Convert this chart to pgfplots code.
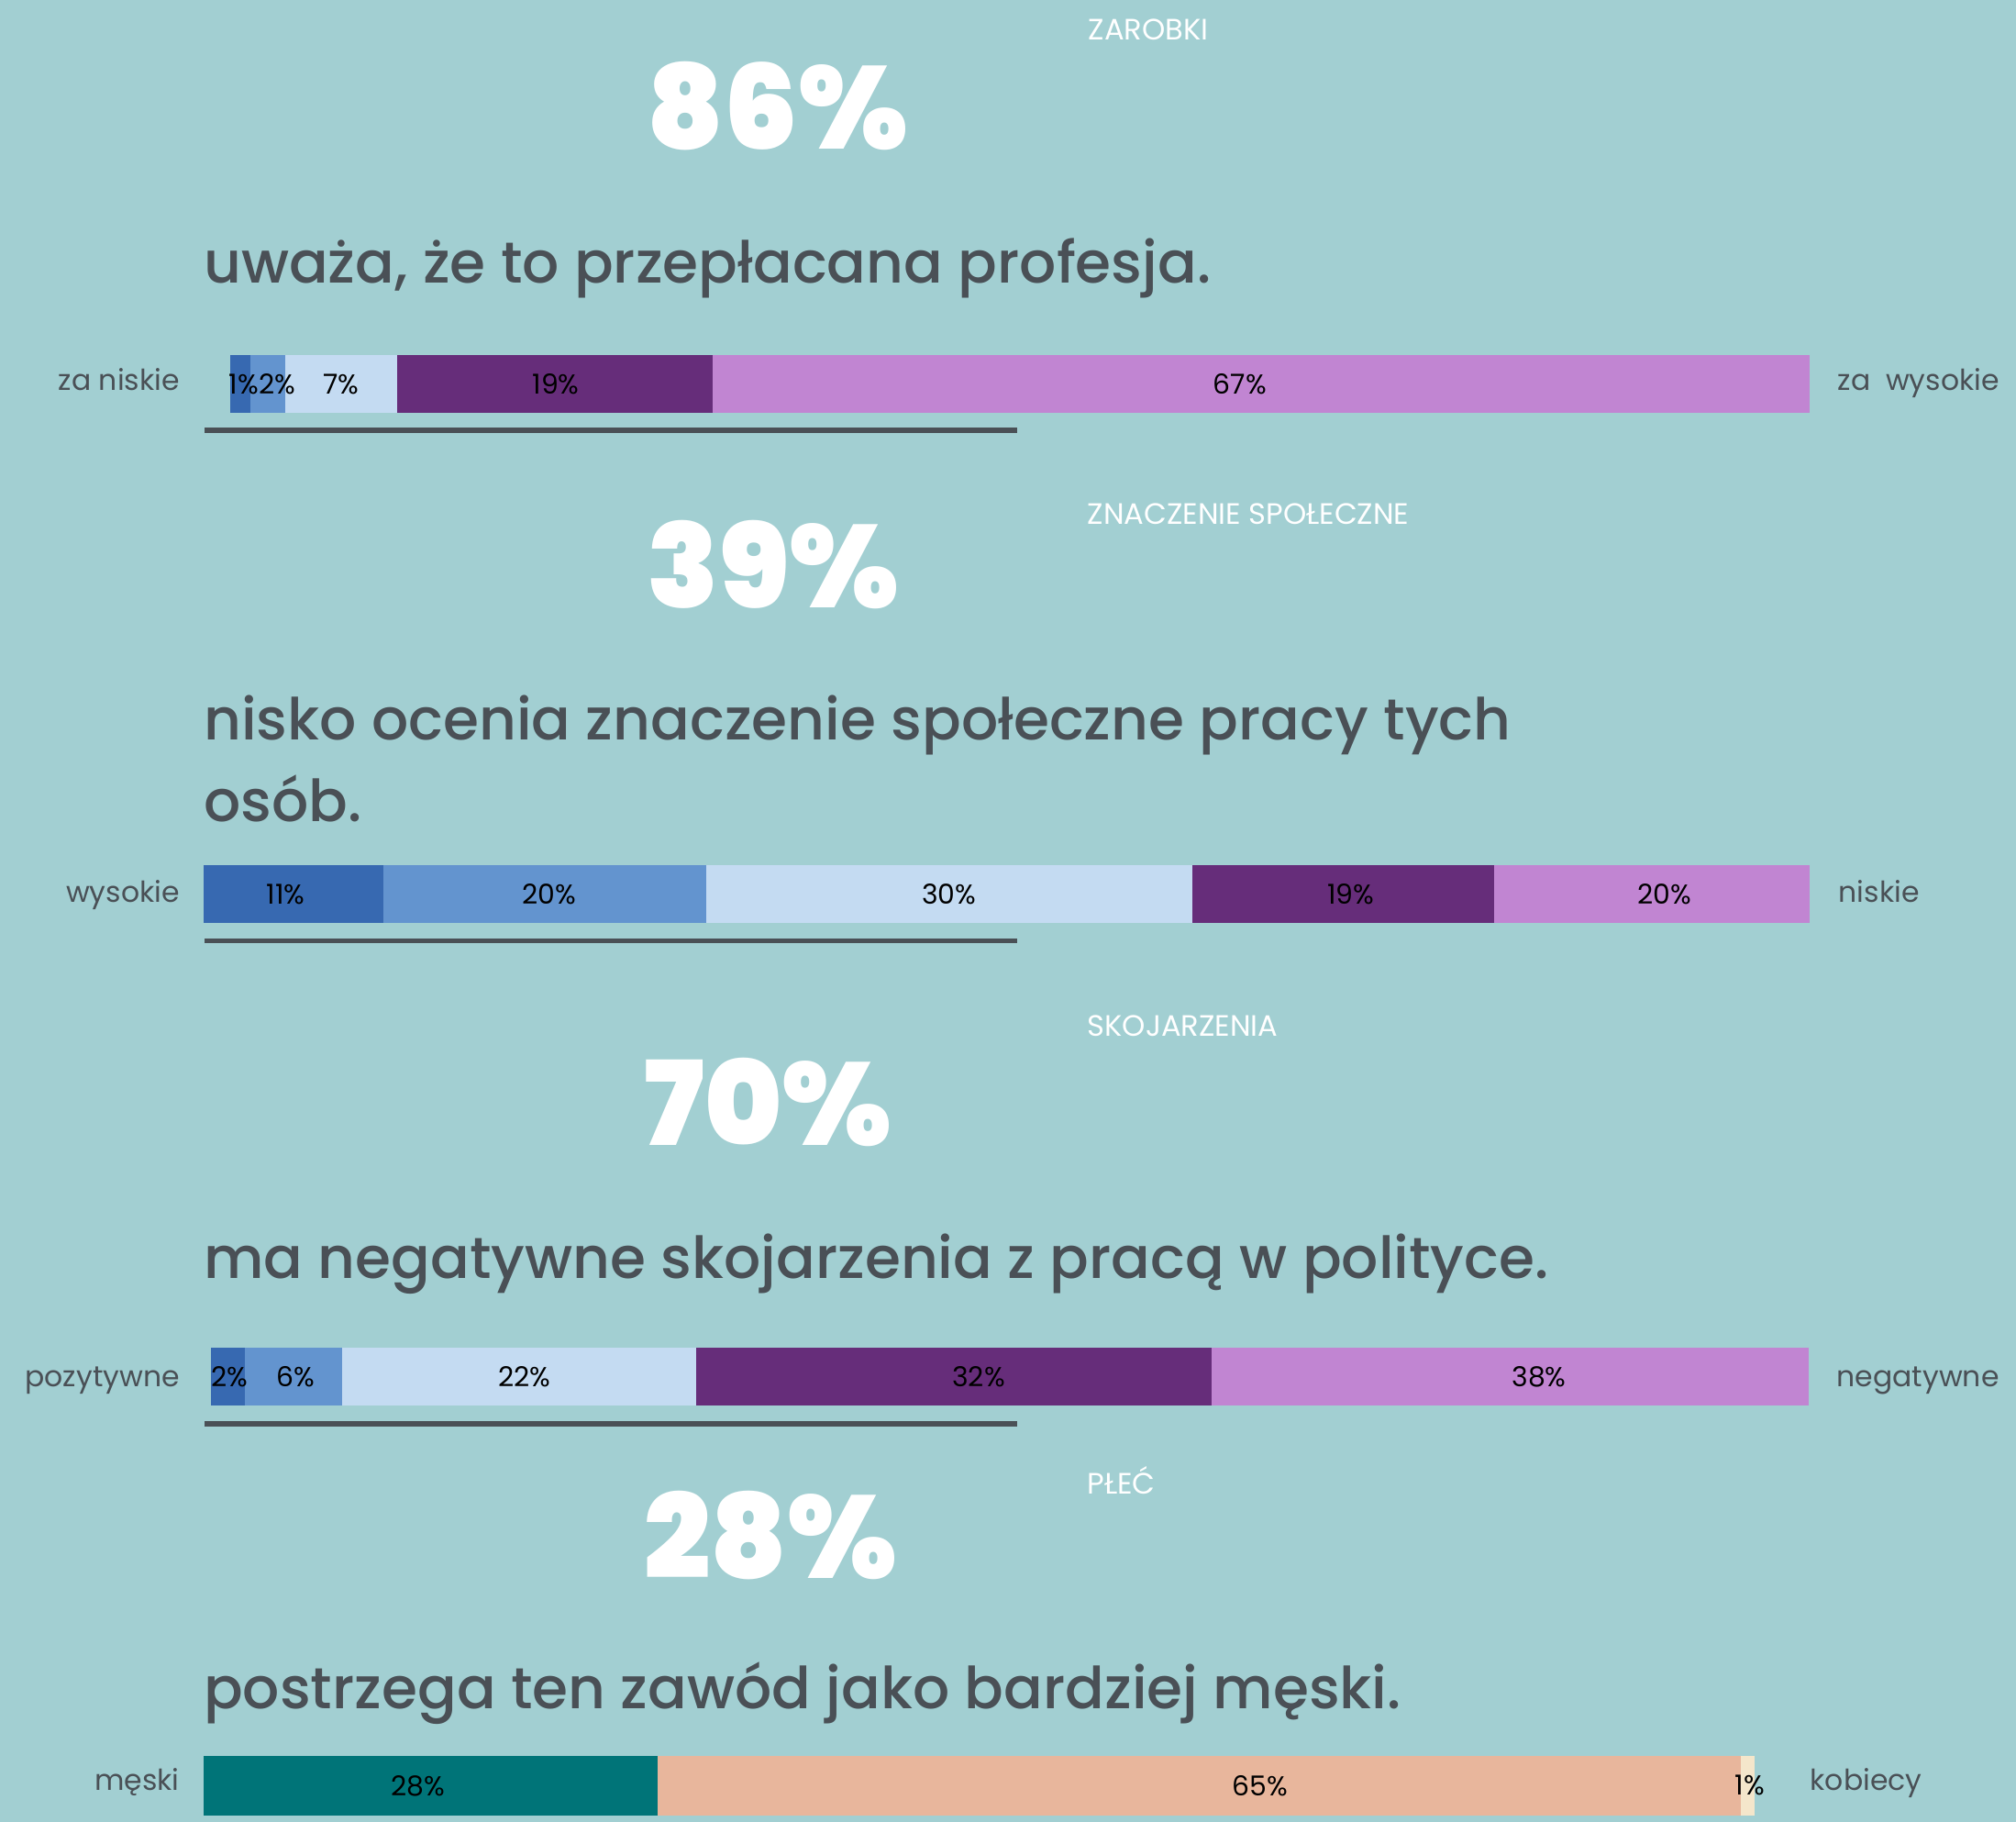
\documentclass[border=0pt]{standalone}
\usepackage{pgfplots}
\pgfplotsset{compat=1.18}
\usepackage{fontspec}
\setmainfont{Poppins}
\newfontfamily\pblack{Poppins Black}
\newfontfamily\pmed{Poppins Medium}
\definecolor{bg}{HTML}{A2CFD2}
\definecolor{txt}{HTML}{4A5056}
\definecolor{c1}{HTML}{3769B1}
\definecolor{c2}{HTML}{6394CF}
\definecolor{c3}{HTML}{C4DBF2}
\definecolor{c4}{HTML}{662D7A}
\definecolor{c5}{HTML}{C185D2}
\definecolor{t1}{HTML}{007478}
\definecolor{t2}{HTML}{E8B69C}
\definecolor{t3}{HTML}{F4E6CB}
\newcommand\headfont{\pmed\fontsize{17.95pt}{24pt}\selectfont}
\newcommand\sidefont{\fontsize{8.96pt}{11pt}\selectfont}
\newcommand\valfont{\fontsize{8.5pt}{10pt}\selectfont}
\newcommand\catfont{\fontsize{9.15pt}{11pt}\selectfont}
\newcommand\bigfont{\pblack\fontsize{36.3pt}{40pt}\selectfont}
\pgfplotsset{
  baseax/.style={width=175.1mm, height=#1, scale only axis, hide axis,
    xmin=0, xmax=100, ymin=-0.5, ymax=0.5, clip=false, anchor=west},
  barax/.style={baseax=#1, xbar stacked, bar width=#1},
  labax/.style={baseax=#1},
  labplot/.style={only marks, mark=none, nodes near coords={\pgfplotspointmeta\%},
    point meta=explicit symbolic,
    every node near coord/.append style={anchor=center, inner sep=0pt, font=\valfont, text=black}},
}
\begin{document}
\begin{tikzpicture}
\path[use as bounding box, fill=bg] (0,0) rectangle (219.8mm,-198.6mm);

% ---------- Section 1: ZAROBKI ----------
\node[anchor=base west, inner sep=0, text=white, font=\catfont] at (118.6mm,-4.37mm) {ZAROBKI};
\node[anchor=base west, inner sep=0, text=white, font=\bigfont] at (70.5mm,-16.3mm) {86\%};
\node[anchor=base west, inner sep=0, text=txt, font=\headfont] at (22.15mm,-30.9mm) {uważa, że to przepłacana profesja.};
\begin{axis}[barax=6.3mm, at={(22.15mm,-41.85mm)}]
\addplot[fill=none, draw=none] coordinates {(1.7,0)};
\addplot[fill=c1, draw=none] coordinates {(1.25,0)};
\addplot[fill=c2, draw=none] coordinates {(2.15,0)};
\addplot[fill=c3, draw=none] coordinates {(7.0,0)};
\addplot[fill=c4, draw=none] coordinates {(19.6,0)};
\addplot[fill=c5, draw=none] coordinates {(68.3,0)};
\end{axis}
\begin{axis}[labax=6.3mm, at={(22.15mm,-41.85mm)}]
\addplot[labplot] table[x=x, y=y, meta=lab] {
x y lab
2.52 0 1
4.60 0 2
8.60 0 7
21.96 0 19
64.56 0 67
};
\end{axis}
\node[anchor=base east, inner sep=0, text=txt, font=\sidefont] at (19.64mm,-42.57mm) {za niskie};
\node[anchor=base west, inner sep=0, text=txt, font=\sidefont] at (200.3mm,-42.57mm) {za\ \ wysokie};
\draw[txt, line width=0.53mm] (22.3mm,-46.9mm) -- (110.9mm,-46.9mm);

% ---------- Section 2: ZNACZENIE SPOLECZNE ----------
\node[anchor=base west, inner sep=0, text=white, font=\catfont] at (118.5mm,-57.2mm) {ZNACZENIE SPOŁECZNE};
\node[anchor=base west, inner sep=0, text=white, font=\bigfont] at (70.5mm,-66.3mm) {39\%};
\node[anchor=base west, inner sep=0, text=txt, font=\headfont] at (22.15mm,-80.67mm) {nisko ocenia znaczenie społeczne pracy tych};
\node[anchor=base west, inner sep=0, text=txt, font=\headfont] at (22.15mm,-89.5mm) {osób.};
\begin{axis}[barax=6.3mm, at={(22.15mm,-97.44mm)}]
\addplot[fill=c1, draw=none] coordinates {(11.2,0)};
\addplot[fill=c2, draw=none] coordinates {(20.1,0)};
\addplot[fill=c3, draw=none] coordinates {(30.3,0)};
\addplot[fill=c4, draw=none] coordinates {(18.8,0)};
\addplot[fill=c5, draw=none] coordinates {(19.6,0)};
\end{axis}
\begin{axis}[labax=6.3mm, at={(22.15mm,-97.44mm)}]
\addplot[labplot] table[x=x, y=y, meta=lab] {
x y lab
5.14 0 11
21.56 0 20
46.44 0 30
71.47 0 19
91.0 0 20
};
\end{axis}
\node[anchor=base east, inner sep=0, text=txt, font=\sidefont] at (19.64mm,-98.33mm) {wysokie};
\node[anchor=base west, inner sep=0, text=txt, font=\sidefont] at (200.4mm,-98.33mm) {niskie};
\draw[txt, line width=0.53mm] (22.3mm,-102.55mm) -- (110.9mm,-102.55mm);

% ---------- Section 3: SKOJARZENIA ----------
\node[anchor=base west, inner sep=0, text=white, font=\catfont] at (118.5mm,-112.96mm) {SKOJARZENIA};
\node[anchor=base west, inner sep=0, text=white, font=\bigfont] at (70.2mm,-124.8mm) {70\%};
\node[anchor=base west, inner sep=0, text=txt, font=\headfont] at (22.15mm,-139.3mm) {ma negatywne skojarzenia z pracą w polityce.};
\begin{axis}[barax=6.3mm, at={(22.15mm,-150.04mm)}]
\addplot[fill=none, draw=none] coordinates {(0.49,0)};
\addplot[fill=c1, draw=none] coordinates {(2.13,0)};
\addplot[fill=c2, draw=none] coordinates {(6.05,0)};
\addplot[fill=c3, draw=none] coordinates {(22.03,0)};
\addplot[fill=c4, draw=none] coordinates {(32.07,0)};
\addplot[fill=c5, draw=none] coordinates {(37.2,0)};
\end{axis}
\begin{axis}[labax=6.3mm, at={(22.15mm,-150.04mm)}]
\addplot[labplot] table[x=x, y=y, meta=lab] {
x y lab
1.63 0 2
5.78 0 6
20.02 0 22
48.29 0 32
83.18 0 38
};
\end{axis}
\node[anchor=base east, inner sep=0, text=txt, font=\sidefont] at (19.64mm,-151.1mm) {pozytywne};
\node[anchor=base west, inner sep=0, text=txt, font=\sidefont] at (200.2mm,-151.1mm) {negatywne};
\draw[txt, line width=0.53mm] (22.3mm,-155.2mm) -- (110.9mm,-155.2mm);

% ---------- Section 4: PLEC ----------
\node[anchor=base west, inner sep=0, text=white, font=\catfont] at (118.5mm,-162.87mm) {PŁEĆ};
\node[anchor=base west, inner sep=0, text=white, font=\bigfont] at (70.2mm,-172.0mm) {28\%};
\node[anchor=base west, inner sep=0, text=txt, font=\headfont] at (22.15mm,-186.27mm) {postrzega ten zawód jako bardziej męski.};
\begin{axis}[barax=6.47mm, at={(22.15mm,-194.63mm)}]
\addplot[fill=t1, draw=none] coordinates {(28.3,0)};
\addplot[fill=t2, draw=none] coordinates {(67.45,0)};
\addplot[fill=t3, draw=none] coordinates {(0.84,0)};
\end{axis}
\begin{axis}[labax=6.47mm, at={(22.15mm,-194.63mm)}]
\addplot[labplot] table[x=x, y=y, meta=lab] {
x y lab
13.39 0 28
65.82 0 65
96.32 0 1
};
\end{axis}
\node[anchor=base east, inner sep=0, text=txt, font=\sidefont] at (19.64mm,-195.1mm) {męski};
\node[anchor=base west, inner sep=0, text=txt, font=\sidefont] at (197.3mm,-195.1mm) {kobiecy};
\end{tikzpicture}
\end{document}
